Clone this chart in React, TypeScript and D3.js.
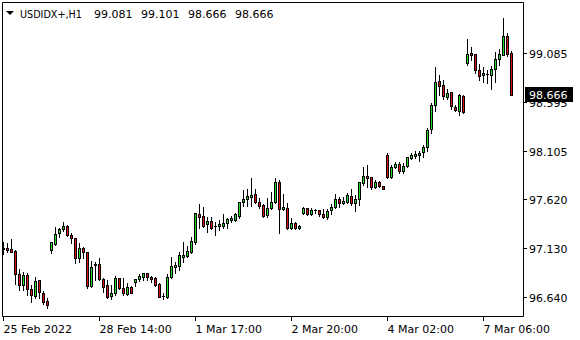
import React from "react";
import * as d3 from "d3";

const opens = [97.128,97.128,97.121,97.101,96.867,96.760,96.860,96.720,96.653,96.807,96.677,96.600,
97.114,97.174,97.278,97.318,97.351,97.261,97.228,97.034,97.128,97.088,96.750,96.971,96.968,96.817,96.760,96.650,96.677,96.827,
96.727,96.670,96.743,96.793,96.817,96.843,96.877,96.837,96.827,96.767,96.650,96.643,96.837,96.944,96.951,97.044,97.051,97.094,
97.194,97.472,97.452,97.368,97.402,97.354,97.354,97.354,97.378,97.412,97.412,97.455,97.589,97.619,97.645,97.669,97.589,97.562,
97.462,97.529,97.589,97.789,97.519,97.529,97.334,97.378,97.328,97.479,97.529,97.469,97.512,97.512,97.472,97.439,97.512,97.539,
97.625,97.579,97.595,97.652,97.585,97.619,97.785,97.852,97.839,97.745,97.795,97.755,98.063,97.839,97.940,97.973,97.906,97.953,
98.030,98.048,98.066,98.093,98.143,98.320,98.561,98.801,98.761,98.644,98.694,98.544,98.501,98.651,98.988,99.085,99.078,98.912,
98.861,98.874,98.867,98.928,99.022,99.068,99.255,99.081];
const highs = [97.188,97.181,97.221,97.106,96.921,96.894,96.877,96.760,96.843,96.810,96.700,96.627,
97.194,97.344,97.334,97.395,97.361,97.278,97.231,97.178,97.144,97.094,97.001,96.994,97.034,96.827,96.810,96.760,96.850,96.835,
96.827,96.783,96.750,96.820,96.870,96.883,96.883,96.850,96.837,96.777,96.683,96.870,97.038,96.994,97.094,97.194,97.151,97.244,
97.485,97.572,97.545,97.445,97.445,97.388,97.412,97.469,97.435,97.455,97.479,97.595,97.712,97.722,97.835,97.722,97.629,97.569,
97.635,97.695,97.835,97.812,97.669,97.579,97.429,97.388,97.361,97.545,97.535,97.529,97.522,97.512,97.519,97.519,97.572,97.672,
97.645,97.639,97.679,97.719,97.662,97.795,97.940,97.963,97.845,97.812,97.805,97.755,98.086,97.963,97.996,97.996,97.980,98.046,
98.086,98.098,98.100,98.166,98.333,98.587,98.945,98.867,98.811,98.721,98.694,98.567,98.677,98.661,99.228,99.145,99.078,98.978,
98.945,98.912,98.955,99.095,99.122,99.436,99.288,99.101];
const lows = [97.068,97.094,97.088,96.767,96.710,96.710,96.660,96.587,96.627,96.633,96.567,96.527,
97.078,97.161,97.244,97.304,97.254,97.178,96.978,96.994,97.034,96.733,96.743,96.810,96.810,96.693,96.627,96.617,96.660,96.720,
96.660,96.660,96.677,96.750,96.803,96.810,96.810,96.793,96.750,96.640,96.617,96.627,96.827,96.883,96.911,96.994,97.038,97.078,
97.171,97.328,97.344,97.294,97.321,97.261,97.311,97.334,97.334,97.395,97.402,97.435,97.555,97.555,97.555,97.579,97.535,97.445,
97.445,97.522,97.579,97.278,97.512,97.321,97.321,97.321,97.321,97.469,97.462,97.462,97.479,97.452,97.429,97.425,97.472,97.529,
97.539,97.572,97.579,97.562,97.505,97.562,97.762,97.739,97.719,97.729,97.745,97.719,97.829,97.835,97.930,97.885,97.885,97.940,
98.020,98.028,98.000,98.043,98.100,98.286,98.501,98.661,98.621,98.621,98.527,98.501,98.461,98.487,98.962,99.012,98.888,98.811,
98.794,98.787,98.727,98.794,98.968,99.062,99.055,98.666];
const closes = [97.121,97.114,97.094,96.867,96.760,96.860,96.720,96.660,96.800,96.687,96.593,96.560,
97.188,97.268,97.321,97.351,97.261,97.228,97.034,97.128,97.088,96.753,96.944,96.956,96.817,96.743,96.643,96.677,96.827,96.727,
96.677,96.737,96.683,96.817,96.850,96.877,96.837,96.823,96.760,96.643,96.647,96.837,96.951,96.961,97.061,97.061,97.101,97.201,
97.479,97.445,97.351,97.402,97.334,97.352,97.368,97.378,97.422,97.435,97.469,97.589,97.622,97.652,97.662,97.589,97.555,97.455,
97.535,97.589,97.789,97.519,97.539,97.334,97.378,97.328,97.351,97.529,97.469,97.512,97.509,97.472,97.439,97.505,97.545,97.619,
97.579,97.605,97.662,97.585,97.619,97.795,97.852,97.835,97.739,97.795,97.752,97.719,97.845,97.940,97.970,97.906,97.953,98.040,
98.063,98.073,98.086,98.143,98.316,98.561,98.794,98.754,98.654,98.684,98.551,98.511,98.661,98.494,99.078,99.068,98.912,98.854,
98.884,98.872,98.928,99.022,99.078,99.255,99.078,98.666];

const priceTicks = [99.085, 98.595, 98.105, 97.62, 97.13, 96.64];
const priceTickLabels = ["99.085", "98.595", "98.105", "97.620", "97.130", "96.640"];
const timeTickIndex = [0, 24, 48, 72, 96, 120];
const timeTickLabels = ["25 Feb 2022", "28 Feb 14:00", "1 Mar 17:00", "2 Mar 20:00", "4 Mar 02:00", "7 Mar 06:00"];
const symbol = "USDIDX+,H1";
const headerValues = ["99.081", "99.101", "98.666", "98.666"];
const lastPriceLabel = "98.666";

const FONT = "'DejaVu Sans', sans-serif";
const BULL = "#22dd22";
const BEAR = "#dd1111";

export default function App() {
  const n = opens.length;
  const x = d3.scaleLinear().domain([0, n - 1]).range([3, 3 + 4 * (n - 1)]);
  const y = d3.scaleLinear().domain([96.64, 99.085]).range([297, 53]);
  const left = 2.5, right = 523.5, top = 2.5, bottom = 316.5;

  const candles = opens.map((o, i) => {
    const c = closes[i];
    const cx = Math.round(x(i));
    const hy = Math.round(y(highs[i]));
    const ly = Math.round(y(lows[i]));
    const ty = Math.round(y(Math.max(o, c)));
    const by = Math.round(y(Math.min(o, c)));
    const bull = c >= o;
    return (
      <g key={i}>
        <line x1={cx + 0.5} x2={cx + 0.5} y1={hy} y2={ly + 1} stroke="#000" strokeWidth={1} />
        {by - ty >= 1 ? (
          <rect x={cx - 0.5} y={ty + 0.5} width={2} height={by - ty} fill={bull ? BULL : BEAR} stroke="#000" strokeWidth={1} />
        ) : (
          <line x1={cx - 1} x2={cx + 2} y1={ty + 0.5} y2={ty + 0.5} stroke="#000" strokeWidth={1} />
        )}
      </g>
    );
  });

  const boxY = Math.round(y(closes[n - 1]));

  return (
    <svg width={580} height={340} style={{ position: "fixed", left: 0, top: 0, background: "#fff" }} fontFamily={FONT}>
      <rect x={0} y={0} width={580} height={340} fill="#fff" />
      {candles}
      <path d={`M${left},${top}H${right}V${bottom}H${left}Z`} fill="none" stroke="#000" strokeWidth={1} />
      {priceTicks.map((p, i) => {
        const ty = Math.round(y(p)) + 0.5;
        return (
          <g key={i}>
            <line x1={524} x2={527} y1={ty} y2={ty} stroke="#000" />
            <text x={529} y={ty + 4} fontSize={11} fill="#000">{priceTickLabels[i]}</text>
          </g>
        );
      })}
      {timeTickIndex.map((ix, i) => {
        const tx = Math.round(x(ix)) + 0.5;
        return (
          <g key={i}>
            <line x1={tx} x2={tx} y1={317} y2={321} stroke="#000" />
            <text x={tx} y={333} fontSize={11} fill="#000">{timeTickLabels[i]}</text>
          </g>
        );
      })}
      <rect x={525} y={boxY - 8} width={48} height={15} fill="#000" />
      <text x={529} y={boxY + 4} fontSize={11} fill="#fff">{lastPriceLabel}</text>
      <path d="M6,11 L14,11 L10,15 Z" fill="#000" />
      <text x={20} y={18} fontSize={11} fill="#000" textLength={62} lengthAdjust="spacingAndGlyphs">{symbol}</text>
      {headerValues.map((v, i) => (
        <text key={i} x={94 + i * 47} y={18} fontSize={11} fill="#000">{v}</text>
      ))}
    </svg>
  );
}
